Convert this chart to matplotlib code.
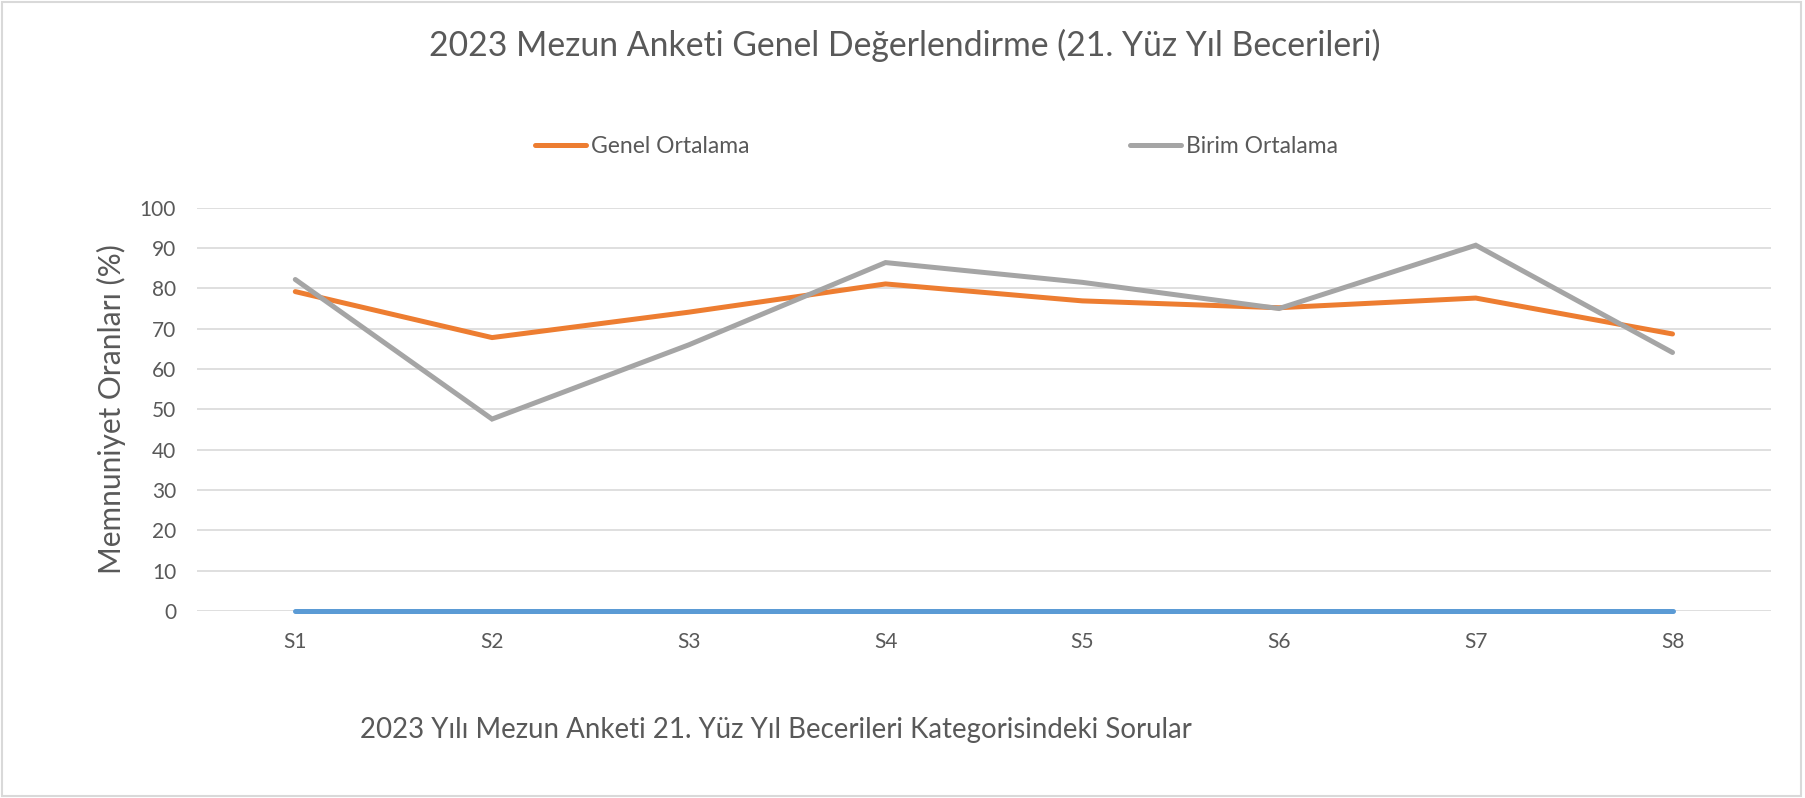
import matplotlib
matplotlib.use("Agg")
import matplotlib.pyplot as plt
from matplotlib.patches import Rectangle

# survey questions and satisfaction percentages
questions = ["S1", "S2", "S3", "S4", "S5", "S6", "S7", "S8"]
genel_ortalama = [79.2, 67.8, 74.1, 81.1, 76.9, 75.2, 77.6, 68.7]
birim_ortalama = [82.2, 47.6, 66.0, 86.4, 81.5, 75.0, 90.7, 64.1]
baseline = [0, 0, 0, 0, 0, 0, 0, 0]
y_ticks = [0, 10, 20, 30, 40, 50, 60, 70, 80, 90, 100]

TEXT = "#595959"
GRID = "#D9D9D9"
plt.rcParams["font.family"] = ["Lato", "DejaVu Sans"]

fig = plt.figure(figsize=(18.05, 7.98), dpi=100)
ax = fig.add_axes([0.1091, 0.2343, 0.872, 0.5054])

x = list(range(len(questions)))
ax.plot(x, baseline, color="#5B9BD5", lw=3.6, solid_capstyle="round",
        zorder=3, clip_on=False)
l1, = ax.plot(x, genel_ortalama, color="#ED7D31", lw=3.6,
              solid_capstyle="round", solid_joinstyle="round", zorder=4)
l2, = ax.plot(x, birim_ortalama, color="#A5A5A5", lw=3.6,
              solid_capstyle="round", solid_joinstyle="miter", zorder=5)

ax.set_xlim(-0.5, len(questions) - 0.5)
ax.set_ylim(0, 100)
ax.set_yticks(y_ticks)
ax.set_xticks(x)
ax.set_xticklabels(questions)
ax.grid(axis="y", color=GRID, lw=1.2)
ax.set_axisbelow(True)
for s in ax.spines.values():
    s.set_visible(False)
ax.tick_params(length=0, labelsize=15, labelcolor=TEXT)
ax.tick_params(axis="x", pad=15)
ax.tick_params(axis="y", pad=15)

ax.set_ylabel("Memnuniyet Oranları (%)", fontsize=21.5, color=TEXT)
ax.yaxis.set_label_coords(-0.0545, 0.5)
ax.yaxis.label.set_va("center")
ax.set_xlabel("2023 Yılı Mezun Anketi 21. Yüz Yıl Becerileri Kategorisindeki Sorular",
              fontsize=19.9, color=TEXT)
ax.xaxis.set_label_coords(0.368, -0.295)
ax.xaxis.label.set_va("center")

fig.text(0.501, 0.943, "2023 Mezun Anketi Genel Değerlendirme (21. Yüz Yıl Becerileri)",
         ha="center", va="center", fontsize=24.3, color=TEXT)

leg = fig.legend([l1, l2], ["Genel Ortalama", "Birim Ortalama"], ncol=2,
                 loc="center", bbox_to_anchor=(0.519, 0.817), frameon=False,
                 fontsize=16.5, handlelength=2.2, handletextpad=0.25,
                 columnspacing=16.6)
for t in leg.get_texts():
    t.set_color(TEXT)

fig.patches.append(Rectangle((0.001, 0.002), 0.997, 0.995, transform=fig.transFigure,
                             fill=False, edgecolor=GRID, lw=1.5))

fig.savefig("out.png", dpi=100)
